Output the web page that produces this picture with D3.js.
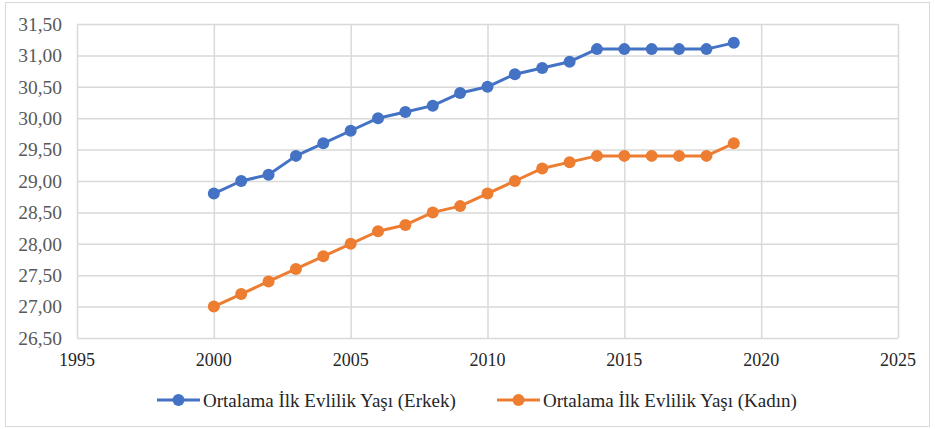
<!DOCTYPE html>
<html>
<head>
<meta charset="utf-8">
<script src="https://cdn.jsdelivr.net/npm/d3@7/dist/d3.min.js"></script>
</head>
<body style="margin:0">
<svg id="chart" width="935" height="429"></svg>
<script>
// Ortalama ilk evlilik yaşı, 2000-2019
const years = [2000, 2001, 2002, 2003, 2004, 2005, 2006, 2007, 2008, 2009,
               2010, 2011, 2012, 2013, 2014, 2015, 2016, 2017, 2018, 2019];
const erkek = [28.8, 29.0, 29.1, 29.4, 29.6, 29.8, 30.0, 30.1, 30.2, 30.4,
               30.5, 30.7, 30.8, 30.9, 31.1, 31.1, 31.1, 31.1, 31.1, 31.2];
const kadin = [27.0, 27.2, 27.4, 27.6, 27.8, 28.0, 28.2, 28.3, 28.5, 28.6,
               28.8, 29.0, 29.2, 29.3, 29.4, 29.4, 29.4, 29.4, 29.4, 29.6];
const xTicks = [1995, 2000, 2005, 2010, 2015, 2020, 2025];
const yTicks = [26.5, 27.0, 27.5, 28.0, 28.5, 29.0, 29.5, 30.0, 30.5, 31.0, 31.5];
const seriesNames = ["Ortalama İlk Evlilik Yaşı (Erkek)", "Ortalama İlk Evlilik Yaşı (Kadın)"];
const colors = ["#4472C4", "#ED7D31"];

const FONT = "'Liberation Serif', 'Times New Roman', serif";

const svg = d3.select("#chart");
const W = 935, H = 429;
const plot = { left: 77, right: 898, top: 24, bottom: 338 };

// chart frame
svg.append("rect")
  .attr("x", 5.5).attr("y", 2.5).attr("width", W - 11).attr("height", H - 5)
  .attr("fill", "#fff").attr("stroke", "#d9d9d9").attr("stroke-width", 1);

const x = d3.scaleLinear().domain([1995, 2025]).range([plot.left, plot.right]);
const y = d3.scaleLinear().domain([26.5, 31.5]).range([plot.bottom, plot.top]);

const fmt = d => d3.format(".2f")(d).replace(".", ",");

// gridlines drawn by the axes
const gy = svg.append("g").attr("transform", `translate(${plot.left},0)`)
  .call(d3.axisLeft(y).tickValues(yTicks).tickFormat("").tickSize(-(plot.right - plot.left)));
gy.select(".domain").remove();
gy.selectAll(".tick line").attr("stroke", "#d9d9d9").attr("stroke-width", 1.5);

const gx = svg.append("g").attr("transform", `translate(0,${plot.bottom})`)
  .call(d3.axisBottom(x).tickValues(xTicks).tickFormat("").tickSize(-(plot.bottom - plot.top)));
gx.select(".domain").remove();
gx.selectAll(".tick line").attr("stroke", "#d9d9d9").attr("stroke-width", 1.5);

// tick labels
svg.selectAll("text.ylab").data(yTicks).join("text")
  .attr("class", "ylab")
  .attr("x", plot.left - 15).attr("y", d => y(d)).attr("dy", "0.35em")
  .attr("text-anchor", "end").attr("fill", "#595959")
  .style("font-family", FONT).style("font-size", "19.5px")
  .text(fmt);

svg.selectAll("text.xlab").data(xTicks).join("text")
  .attr("class", "xlab")
  .attr("x", d => x(d)).attr("y", 366)
  .attr("text-anchor", "middle").attr("fill", "#262626")
  .style("font-family", FONT).style("font-size", "18px")
  .text(d => String(d));

// series lines and markers
const line = d3.line().x(d => x(d[0])).y(d => y(d[1]));
[erkek, kadin].forEach((vals, i) => {
  const pts = years.map((yr, j) => [yr, vals[j]]);
  svg.append("path").datum(pts)
    .attr("d", line).attr("fill", "none")
    .attr("stroke", colors[i]).attr("stroke-width", 3).attr("stroke-linejoin", "round");
  svg.append("g").selectAll("circle").data(pts).join("circle")
    .attr("cx", d => x(d[0])).attr("cy", d => y(d[1])).attr("r", 6)
    .attr("fill", colors[i]);
});

// legend
const legendY = 400;
const legendX = [157, 497];
legendX.forEach((lx, i) => {
  svg.append("line").attr("x1", lx).attr("x2", lx + 43).attr("y1", legendY).attr("y2", legendY)
    .attr("stroke", colors[i]).attr("stroke-width", 3);
  svg.append("circle").attr("cx", lx + 21.5).attr("cy", legendY).attr("r", 6).attr("fill", colors[i]);
});
svg.selectAll("text.leg").data(seriesNames).join("text")
  .attr("class", "leg")
  .attr("x", (d, i) => legendX[i] + 46).attr("y", legendY).attr("dy", "0.35em")
  .attr("fill", "#262626")
  .style("font-family", FONT).style("font-size", "19px")
  .text(d => d);
</script>
</body>
</html>
